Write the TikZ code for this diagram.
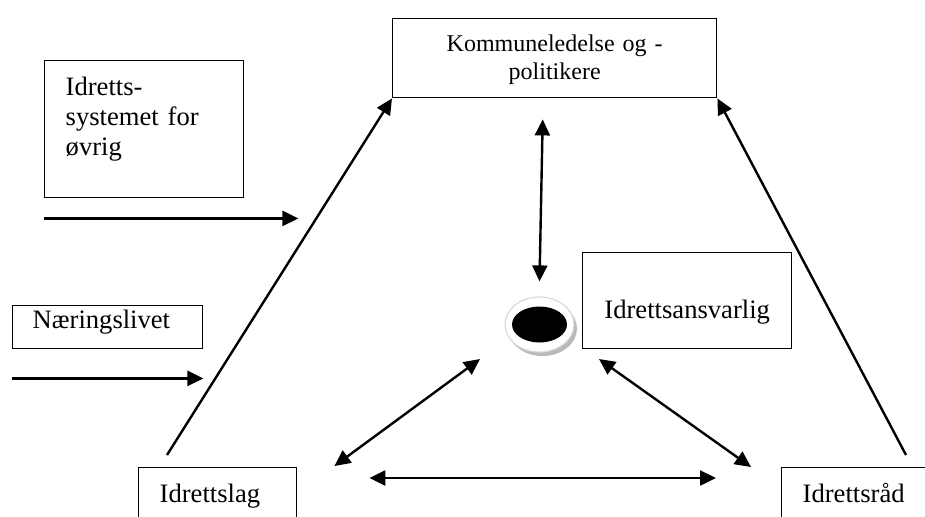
\documentclass[tikz,border=0pt]{standalone}
\usepackage{fontspec}
\setmainfont{Liberation Serif}
\usetikzlibrary{positioning,shapes.geometric,calc,arrows.meta,shadows}
\newcommand{\mainsize}{\fontsize{13.3}{15}\selectfont}

\begin{document}
\begin{tikzpicture}[x=.5pt, y=-.5pt]
\tikzset{
    box/.style = {draw, rectangle, anchor=north west, inner ysep=0pt, align=left,
                  line width=.7pt, font=\mainsize},
    arr/.style = {draw, line width=1.2pt, -{Triangle[length=8pt,width=7.5pt]}},
    darr/.style = {draw, line width=1.2pt, {Triangle[length=8pt,width=7.5pt]}-{Triangle[length=8pt,width=7.5pt]}}
}
\clip (0,0) rectangle (925,516);

% -------------------------------------------------------
\node[box, align=center, inner xsep=0pt, text width=162pt, text height=16.5pt,
      text depth=23pt, font=\fontsize{12}{14}\selectfont] (komm) at (392,18) {
    Kommuneledelse og -\\
    politikere
};

\node[box, inner xsep=10.5pt, text width=78.5pt, text height=17.5pt,
      text depth=51pt] (sys) at (44,60) {
    Idretts-\\
    systemet for\\
    øvrig
};

\node[box, inner xsep=10pt, text width=75pt, text height=11.5pt,
      text depth=10pt] (naer) at (12,305) {Næringslivet};

\node[box, align=center, inner xsep=0pt, text width=104.5pt, text height=33pt,
      text depth=15pt] (ansv) at (582,252) {Idrettsansvarlig};

\node[box, inner xsep=10.5pt, text width=58pt, text height=17.5pt,
      text depth=14pt] (lag) at (138,467) {Idrettslag};

\node[box, inner xsep=10.5pt, text width=56.5pt, text height=17.5pt,
      text depth=14pt] (raad) at (781,467) {Idrettsråd};

% hub
\node[ellipse, draw=gray!30, fill=white, line width=.6pt, minimum width=34.5pt,
      minimum height=27.5pt, drop shadow={shadow xshift=1.5pt, shadow yshift=-2pt,
      fill=gray!55, opacity=1}] (ring) at (539.5,324.5) {};
\node[ellipse, fill=black, minimum width=27.5pt, minimum height=18pt,
      inner sep=0pt] (hub) at (ring.center) {};

% -------------------------------------------------------
\path ($(sys.south west)+(0,20)$) edge[arr] ($(sys.south east)+(54,20)$);
\path ($(naer.south west)+(0,29)$) edge[arr] ($(naer.south east)+(0,29)$);

\path ($(lag.north west)+(29,-12)$) edge[arr] (komm.south west);
\path ($(raad.north west)+(125,-12)$) edge[arr] (komm.south east);

\path ($(komm.south)+(-12,21)$) edge[darr] ($(ring.north)+(0,-15)$);
\path ($(lag.north east)+(37,-1)$) edge[darr] ($(ring.center)+(-59.5,34.5)$);
\path ($(raad.north west)+(-30,0)$) edge[darr] ($(ring.center)+(59.5,34.5)$);
\path ($(lag.north east)+(72,11)$) edge[darr] ($(raad.north west)+(-65,11)$);
\end{tikzpicture}
\end{document}
